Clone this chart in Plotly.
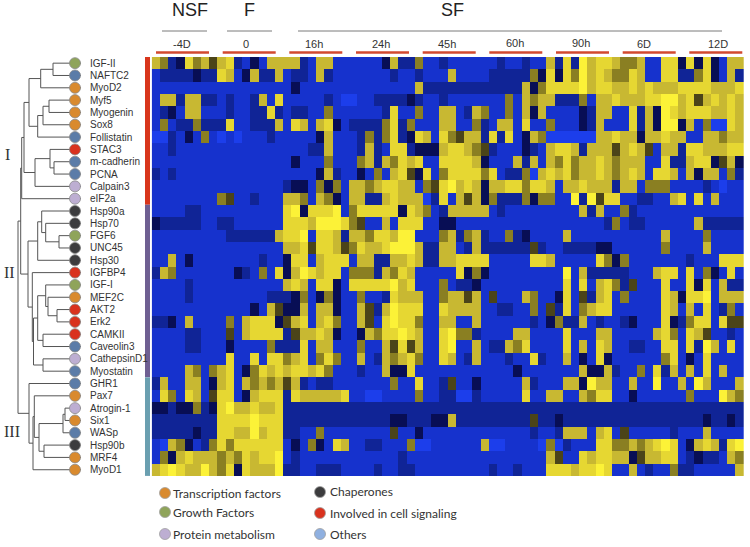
import plotly.graph_objects as go

W, H = 750, 547
genes = ["IGF-II","NAFTC2","MyoD2","Myf5","Myogenin","Sox8","Follistatin","STAC3","m-cadherin","PCNA","Calpain3","eIF2a",
         "Hsp90a","Hsp70","FGF6","UNC45","Hsp30","IGFBP4","IGF-I","MEF2C","AKT2","Erk2","CAMKII","Caveolin3","CathepsinD1","Myostatin",
         "GHR1","Pax7","Atrogin-1","Six1","WASp","Hsp90b","MRF4","MyoD1"]
gene_class = ["growth","other","tf","tf","tf","tf","other","signal","other","other","protein","protein",
              "chap","chap","growth","chap","chap","signal","growth","tf","signal","signal","signal","other","protein","other",
              "other","tf","protein","tf","other","chap","tf","tf"]
class_colors = {"tf":"#d98a2e","growth":"#8fa45a","protein":"#bdaed2","chap":"#3c3c3e","signal":"#d9321e","other":"#5b7ca8"}

# expression level per gene, 0 = bright blue ... 3 = navy, 4 = dark olive ... 8 = bright yellow
heat_left = [
"6 5 2 3 7 5 6 4 6 7 2 1 3 1 6 6 6 6 2 1 6 6 1 1 1 1 1 1 3 6 2 2 5 1 1 2",
"1 2 2 2 2 3 2 2 7 6 1 3 6 2 2 6 1 2 2 1 6 2 1 1 1 1 1 1 1 2 1 1 2 1 1 1",
"1 1 1 1 1 1 1 1 1 1 1 1 1 1 1 1 1 3 1 1 1 1 1 1 1 1 1 1 1 1 1 1 6 2 2 2",
"1 6 6 2 6 6 2 2 1 2 1 1 2 6 1 7 1 1 1 1 1 2 1 0 0 1 1 2 2 2 2 3 2 1 1 2",
"1 2 3 1 6 6 1 1 1 2 1 1 2 2 7 2 1 2 2 1 1 5 1 1 1 1 1 1 2 7 1 1 5 1 1 6",
"1 5 1 2 2 5 2 2 2 7 1 1 2 2 2 6 1 7 6 1 6 7 3 1 2 2 2 2 5 7 2 5 1 1 1 6",
"0 0 2 1 3 1 5 1 0 1 0 1 1 1 2 1 1 1 1 1 3 6 1 1 1 2 5 2 5 7 2 3 7 6 1 7",
"1 1 2 1 1 1 1 1 1 1 1 1 1 1 1 1 1 1 1 2 2 6 1 1 1 2 6 2 1 7 7 2 3 3 3 6",
"1 1 1 1 1 1 1 1 1 1 1 1 1 1 1 1 1 3 1 1 1 5 1 1 1 5 6 2 6 5 7 6 7 1 1 7",
"2 1 2 1 1 1 1 1 1 1 1 1 1 1 1 1 1 1 1 1 3 6 2 1 1 3 1 5 1 6 7 4 3 7 1 5",
"1 1 1 1 1 1 1 1 1 1 1 1 1 1 1 1 2 3 3 1 5 3 5 1 6 6 5 6 7 7 6 6 1 5 4 7",
"1 1 1 1 1 1 1 1 5 4 1 1 2 1 1 1 6 6 5 1 6 5 3 1 6 6 2 2 6 7 6 6 6 0 2 7",
"1 1 1 1 2 2 1 1 1 1 1 1 1 1 1 1 7 8 3 7 7 7 8 1 5 7 7 7 7 7 3 7 6 5 1 2",
"3 2 2 2 2 2 1 1 2 2 1 1 1 1 1 1 7 7 7 6 8 8 8 7 5 4 1 1 6 1 7 7 7 1 1 3",
"1 1 1 1 1 1 1 1 1 2 2 2 2 2 2 6 7 7 8 1 7 7 6 2 6 6 5 7 7 6 8 8 1 1 1 5",
"1 1 1 1 1 1 1 1 1 1 1 1 1 1 1 1 6 6 7 4 7 7 6 4 5 7 6 6 7 8 8 8 6 2 2 6",
"1 1 6 1 3 1 1 1 1 1 1 1 1 2 1 1 3 7 7 1 6 7 7 7 1 6 6 2 2 6 6 7 6 2 2 6",
"2 6 5 1 1 1 1 1 1 1 3 2 1 5 1 7 3 6 8 7 6 7 7 1 5 5 5 2 6 5 7 6 1 1 1 1",
"1 1 1 1 2 1 1 1 1 1 1 1 1 1 1 1 6 7 6 1 7 7 3 1 7 7 7 7 7 8 6 7 1 1 1 5",
"1 1 1 1 2 1 1 1 1 1 1 1 1 1 2 2 2 3 5 1 3 5 3 1 1 5 1 1 2 7 6 6 6 1 1 5",
"1 1 1 1 1 1 1 1 1 1 1 1 3 1 6 4 3 3 6 1 6 6 3 1 1 6 4 2 6 8 7 7 7 1 1 7",
"2 2 3 1 6 1 1 1 1 5 1 6 7 7 7 3 4 6 7 1 6 7 5 1 1 6 4 1 7 8 7 7 5 1 1 6",
"1 1 1 1 2 2 1 1 1 4 1 6 7 7 7 7 2 4 6 6 7 6 3 1 1 3 6 5 7 7 8 7 6 1 1 7",
"1 1 1 1 2 2 1 1 1 3 1 1 1 1 5 2 2 2 7 1 6 6 1 1 1 5 1 1 6 4 7 4 6 1 1 7",
"1 1 1 1 1 1 1 1 1 7 1 1 7 1 7 7 5 6 7 1 5 7 5 1 1 6 1 2 6 5 6 7 5 1 1 7",
"1 1 1 1 6 5 1 5 6 7 1 3 5 7 6 7 6 7 7 6 7 5 1 1 1 2 1 1 6 3 3 7 1 1 1 1",
"2 6 1 1 6 6 1 3 6 7 1 6 5 6 5 6 4 6 2 1 2 2 1 1 1 1 1 1 1 5 1 1 7 1 1 2",
"1 7 5 1 7 6 1 4 7 7 1 3 6 7 7 7 2 7 6 6 6 6 6 7 1 1 0 0 1 1 1 1 5 1 1 2",
"3 3 2 3 3 5 2 3 7 8 6 6 7 6 6 7 2 2 2 2 2 2 2 2 2 2 2 2 2 2 2 2 2 2 2 2",
"2 2 2 2 2 2 2 2 7 7 7 7 8 7 7 7 2 2 2 2 2 2 2 2 2 2 2 2 2 3 3 2 2 2 3 3",
"2 2 2 2 2 3 2 2 7 7 6 6 8 6 7 7 2 2 1 1 5 1 1 1 1 1 1 1 1 4 1 1 3 1 1 1",
"1 0 6 5 3 1 2 5 7 5 7 7 7 7 7 7 1 3 1 5 3 1 7 6 1 1 2 2 1 1 1 5 0 0 1 1",
"1 5 3 6 7 6 6 6 5 6 5 7 6 7 7 8 1 2 1 1 1 1 1 1 1 1 1 1 1 1 2 1 1 1 1 1",
"6 7 8 7 6 6 8 6 5 7 3 7 6 6 6 8 2 2 1 1 2 2 2 1 1 1 1 2 1 1 2 2 1 1 1 1",
]
heat_right = [
"1 1 1 1 1 1 2 1 1 2 1 1 6 2 7 2 8 6 7 7 6 5 5 6 1 1 7 7 3 7 3 7 3 1 6 6",
"6 1 1 1 1 2 2 2 2 2 5 3 7 3 7 5 8 6 7 6 5 5 7 6 1 1 7 7 2 2 5 7 3 1 6 2",
"2 2 2 2 2 2 2 2 2 6 3 5 7 7 7 7 8 6 7 7 6 6 7 6 7 6 6 6 7 7 7 7 6 6 6 7",
"1 1 1 1 1 1 1 5 1 6 5 6 6 2 2 2 5 1 6 6 7 6 6 6 7 7 8 8 6 7 4 6 7 6 7 6",
"6 1 2 6 5 1 1 5 1 6 3 6 1 1 1 1 3 2 6 6 1 1 7 2 6 3 8 7 6 7 7 7 6 6 7 6",
"6 1 1 5 2 1 6 6 1 7 1 1 5 1 1 1 3 2 6 1 1 1 7 2 6 3 8 8 3 6 1 5 0 0 7 6",
"5 4 6 6 2 7 2 7 1 3 6 5 0 0 0 0 0 0 6 6 7 6 6 3 6 6 7 6 6 1 1 6 6 5 6 6",
"7 7 6 5 4 2 1 1 1 3 2 1 6 7 7 6 2 6 6 6 4 6 7 6 4 1 6 6 2 7 7 6 6 6 7 7",
"7 7 7 6 3 1 1 1 6 2 6 1 6 5 7 5 6 6 7 6 5 6 6 6 1 1 7 2 2 6 7 7 3 4 6 3",
"7 7 7 7 5 7 1 2 2 5 0 6 7 6 7 5 6 6 7 6 5 6 7 6 1 7 7 6 1 6 3 6 6 1 5 2",
"8 6 7 6 3 6 6 7 7 5 7 7 6 1 6 6 7 6 6 6 2 6 6 1 5 5 5 1 1 1 1 2 1 0 1 1",
"1 6 4 6 3 5 2 2 2 5 3 5 5 1 1 8 2 8 4 7 7 1 1 2 2 1 1 6 7 1 7 1 6 1 1 1",
"6 6 6 6 6 1 2 1 1 1 1 1 1 1 1 1 6 2 6 1 1 5 2 1 1 1 1 1 1 1 1 1 1 1 1 1",
"3 1 1 1 1 1 1 1 1 1 1 1 1 1 1 1 1 1 1 2 5 1 2 2 1 1 1 1 1 1 6 2 2 2 2 2",
"6 2 5 6 2 1 1 5 2 3 1 1 1 1 6 1 1 1 1 1 1 1 1 1 1 1 6 1 1 1 1 5 1 1 1 1",
"6 1 2 6 2 2 2 2 2 2 4 2 1 1 2 2 2 2 3 3 1 1 1 1 1 1 5 1 1 1 1 6 1 1 1 1",
"6 7 7 7 7 1 1 1 1 1 7 7 6 1 1 1 1 1 7 5 3 5 1 1 1 1 1 1 1 2 1 1 1 7 7 7",
"1 7 3 5 3 1 1 1 1 1 1 1 1 1 8 1 6 2 2 2 2 2 1 1 1 6 7 7 1 7 1 5 3 1 7 1",
"1 2 2 3 1 1 1 1 1 1 1 1 1 1 7 1 7 1 6 7 5 2 4 1 1 1 7 1 1 7 3 7 1 6 2 2",
"6 6 4 6 1 4 1 1 1 6 5 1 1 3 7 1 4 2 6 7 1 5 1 1 1 1 7 6 3 7 7 8 1 6 6 6",
"6 6 6 6 1 1 2 2 1 1 5 1 4 2 7 1 5 6 7 7 1 1 1 1 1 1 7 6 1 6 1 7 1 2 5 1",
"6 1 1 6 1 1 1 1 1 1 2 1 3 5 2 2 6 1 2 1 1 2 3 1 1 1 7 3 2 5 7 7 1 7 4 4",
"8 5 5 2 1 1 1 1 6 6 1 1 1 1 7 1 1 1 6 6 1 1 1 1 1 6 7 5 1 7 6 4 1 1 2 1",
"8 1 1 6 1 2 2 6 5 7 1 1 1 1 7 1 6 1 7 6 1 1 2 2 1 1 7 7 1 7 2 8 6 1 7 1",
"6 1 2 6 1 1 1 2 1 1 7 2 1 1 6 1 3 1 7 3 1 1 1 1 1 1 5 7 1 3 1 7 1 1 1 1",
"1 1 1 1 1 1 1 1 3 1 1 1 1 1 1 1 6 3 3 6 2 1 1 5 1 7 2 6 1 6 1 7 1 6 1 1",
"4 1 1 3 1 1 1 1 1 6 2 1 1 1 6 6 3 8 6 6 1 1 6 1 1 8 1 1 6 1 8 6 1 1 1 6",
"2 0 0 2 1 1 1 1 1 7 1 1 6 6 1 1 6 5 7 7 1 1 3 1 1 1 1 1 1 5 1 1 1 8 6 5",
"2 2 2 2 2 2 2 2 2 2 2 2 2 2 2 2 2 2 2 2 2 2 2 2 2 2 2 2 2 2 2 2 2 2 2 2",
"6 2 2 2 2 2 2 2 2 2 4 2 2 3 2 2 2 2 2 2 2 2 2 2 2 2 2 2 2 2 2 3 2 2 3 2",
"1 1 1 1 1 1 1 1 1 1 2 1 1 2 6 6 6 1 6 7 1 4 1 1 1 1 1 2 1 1 1 6 1 1 1 1",
"1 1 1 1 6 0 0 1 1 1 1 0 5 0 2 1 1 1 7 7 5 5 6 5 6 7 8 7 1 3 6 7 6 2 7 8",
"1 1 1 1 1 1 1 1 1 1 1 1 6 4 1 1 7 6 7 7 6 6 3 4 6 6 7 7 1 2 3 2 2 1 6 5",
"1 1 1 1 1 2 1 1 2 1 1 1 7 7 7 6 7 7 8 7 1 1 6 1 2 1 1 5 2 2 1 1 1 1 1 6",
]
heat = []
for a, b in zip(heat_left, heat_right):
    row = [int(v) for v in (a + " " + b).split()]
    assert len(row) == 72, (len(row), a)
    heat.append(row)

level_colors = ["#1c3eeb","#1632cd","#102496","#080e55","#4b4419","#8a7f22","#c8b832","#e6d732","#fcf237"]

# dendrogram merges: child a, child b, merge position
merges = [(0,1,53),(34,2,40.7),(3,4,49),(36,5,43),(37,6,37.7),(35,38,29),(8,9,54),(7,40,50),(41,10,35),(39,42,24),(43,11,21.7),
          (14,15,59),(13,45,45.7),(12,46,41.7),(47,16,37.7),(20,21,57),(19,49,48),(18,50,45.7),(22,23,43),(51,52,37.7),(24,25,43),
          (53,54,33.5),(17,55,32.3),(48,56,28),(44,57,20.7),(28,29,65),(59,30,63),(31,32,44),(60,61,39),(27,62,34.3),(63,33,33),
          (26,64,29),(58,65,18)]
leaf_end = 81
cluster_sizes = [12, 14, 8]
cluster_colors = ["#d8361c", "#6f5f92", "#6a9fb0"]
cluster_names = ["I", "II", "III"]
cluster_label_y = [154, 272.5, 431]
cluster_label_x = [7, 9, 12]

phases = ["NSF", "F", "SF"]
phase_x = [190, 249, 452]
phase_line = [(162, 207), (227, 272), (298, 722)]
timepoints = ["-4D", "0", "16h", "24h", "45h", "60h", "90h", "6D", "12D"]
time_x = [182, 246, 314, 381, 447, 515, 581, 644, 718]
time_y = [44, 44, 44, 44, 44, 43, 43, 44, 44]
bar_x0 = [156, 222.7, 289.3, 356, 422.7, 489.3, 556, 622.7, 689.3]

legend_items = [("Transcription factors","#d98a2e",165,493,170.5),("Growth Factors","#8fa45a",165,512,170.5),("Protein metabolism","#bdaed2",165,534,170.5),
                ("Chaperones","#3c3c3e",320,492,327.5),("Involved in cell signaling","#d9321e",320,513,327.5),("Others","#8fb0e0",320,534,327.5)]

HX0, HX1, HY0, HY1 = 151.7, 744.0, 57.0, 475.9
px = lambda x: x / W
py = lambda y: 1 - y / H

fig = go.Figure()
n_lv = len(level_colors) - 1
fig.add_trace(go.Heatmap(z=heat, x=list(range(72)), y=list(range(len(genes))), zmin=0, zmax=n_lv, showscale=False,
                         colorscale=[[i / n_lv, c] for i, c in enumerate(level_colors)], hoverinfo="skip"))

# dendrogram
node_x = {i: leaf_end for i in range(len(genes))}
node_y = {i: i for i in range(len(genes))}
lx, ly = [], []
for idx, (a, b, pos) in enumerate(merges):
    nid = len(genes) + idx
    lx += [node_x[a], pos, pos, node_x[b], None]
    ly += [node_y[a], node_y[a], node_y[b], node_y[b], None]
    node_x[nid] = pos
    node_y[nid] = (node_y[a] + node_y[b]) / 2
fig.add_trace(go.Scatter(x=lx, y=ly, mode="lines", xaxis="x2", yaxis="y", line=dict(color="#555555", width=1), hoverinfo="skip"))
fig.add_trace(go.Scatter(x=[75] * len(genes), y=list(range(len(genes))), mode="markers", xaxis="x2", yaxis="y", cliponaxis=False,
                         marker=dict(size=11, color=[class_colors[c] for c in gene_class], line=dict(color="#8a8a8a", width=0.8)), hoverinfo="skip"))
# legend dots
fig.add_trace(go.Scatter(x=[i[2] for i in legend_items], y=[i[3] for i in legend_items], mode="markers", xaxis="x3", yaxis="y3",
                         marker=dict(size=11, color=[i[1] for i in legend_items], line=dict(color="#a0a0a0", width=0.8)), hoverinfo="skip"))

ann, shapes = [], []
def text(x, y, s, size, font="Liberation Sans", color="#222222", anchor="center"):
    ann.append(dict(x=px(x), y=py(y), xref="paper", yref="paper", text=s, showarrow=False, xanchor=anchor, yanchor="middle",
                    font=dict(family=font, size=size, color=color)))
def hline(x0, x1, y, color, width):
    shapes.append(dict(type="line", xref="paper", yref="paper", x0=px(x0), x1=px(x1), y0=py(y), y1=py(y), line=dict(color=color, width=width)))

for i, g in enumerate(genes):
    ann.append(dict(x=px(87.5), y=i, xref="paper", yref="y", text=g, showarrow=False, xanchor="left", yanchor="middle",
                    font=dict(family="Liberation Sans", size=10, color="#333333")))
start = -0.5
for n, c in zip(cluster_sizes, cluster_colors):
    shapes.append(dict(type="rect", xref="paper", yref="y", x0=px(145), x1=px(150), y0=start, y1=start + n, fillcolor=c, line=dict(width=0)))
    start += n
for s, x, y in zip(cluster_names, cluster_label_x, cluster_label_y):
    text(x, y, s, 16, font="Liberation Serif", color="#333333")
for s, x, (l0, l1) in zip(phases, phase_x, phase_line):
    text(x, 10, s, 18)
    hline(l0, l1, 31, "#7a7a7a", 1)
for s, x, y, b in zip(timepoints, time_x, time_y, bar_x0):
    text(x, y, s, 11, color="#333333")
    hline(b, b + 53, 52.5, "#d2492f", 2.5)
for lab, col, mx, my, tx in legend_items:
    text(tx, my, lab, 12, font="Lato", color="#333333", anchor="left")

hidden = dict(visible=False, showgrid=False, zeroline=False)
fig.update_layout(
    width=W, height=H, margin=dict(l=0, r=0, t=0, b=0), paper_bgcolor="white", plot_bgcolor="rgba(0,0,0,0)", showlegend=False,
    xaxis=dict(domain=[px(HX0), px(HX1)], range=[-0.5, 71.5], **hidden),
    yaxis=dict(domain=[py(HY1), py(HY0)], range=[33.5, -0.5], **hidden),
    xaxis2=dict(domain=[0, px(140)], range=[0, 140], anchor="y", **hidden),
    xaxis3=dict(domain=[0, 1], range=[0, W], anchor="y3", **hidden),
    yaxis3=dict(domain=[0, 1], range=[H, 0], anchor="x3", **hidden),
    annotations=ann, shapes=shapes,
)
fig.write_html("out.html", config={"displayModeBar": False},
               post_script="document.body.style.margin='0';document.body.style.overflow='hidden';")
